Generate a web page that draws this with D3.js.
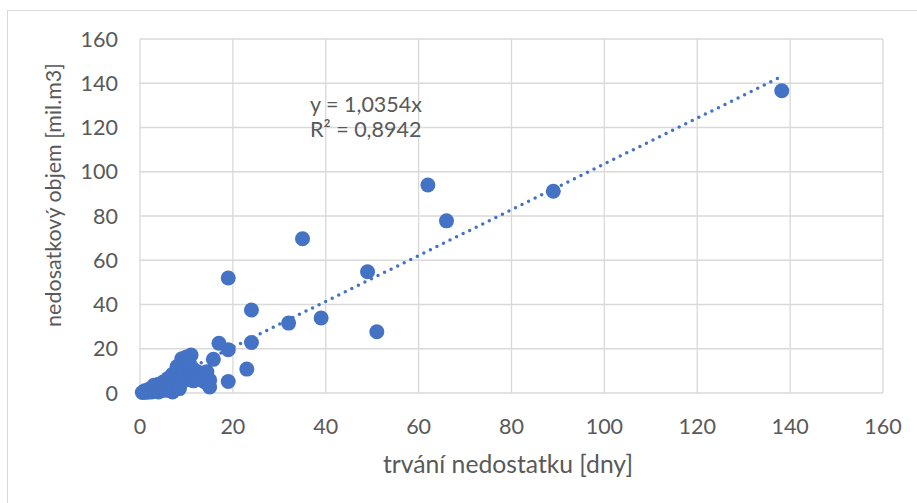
<!DOCTYPE html>
<html><head><meta charset="utf-8">
<script src="https://cdn.jsdelivr.net/npm/d3@7"></script>
<style>body{margin:0;background:#fff}text{font-family:Lato,"Open Sans",sans-serif;fill:#595959}</style>
</head><body><svg id="c" width="917" height="503"></svg>
<script>
const xTicks=[0,20,40,60,80,100,120,140,160];
const yTicks=[0,20,40,60,80,100,120,140,160];
const durationDays=[0.5,1,1,1.5,2,2,2.5,3,3,3,3.5,4,4,4,4.5,5,5,5,5.5,6,6,6,6.5,7,7,7,7,7.5,8,8,8,8,8.5,9,9,9,9,9.5,9.5,10,10,10,10,10.5,10.5,11,11,11,11,11.5,12,12,12.5,13,13,13.5,14,14,14.4,15,15,15.8,17,19,19,19,23,24,24,32,35,39,49,51,62,66,89,138.2];
const deficitVolume=[0.2,0.5,1,0.3,0.8,1.8,0.5,1,2,3.5,1.5,0.5,2.5,4,1,2,3.5,5,1.2,2.5,4,6.5,3,0.5,1.5,5,8.5,3,4,6,10,12,2,5,7,12.5,15.5,9,14,6,8,11,16.3,13,15,7,9,12,17.2,5.5,8,10,7,6,8.5,9,5,7,9.6,2.7,5.8,15.2,22.5,19.6,52,5.2,10.8,22.8,37.5,31.6,69.7,33.9,54.8,27.7,94,77.8,91.2,136.6];
const slope=1.0354, r2="0,8942";

const svg=d3.select("#c");
svg.append("rect").attr("x",7.5).attr("y",10.5).attr("width",920).attr("height",510).attr("fill","none").attr("stroke","#d9d9d9");
const L=140,R=883,T=39,B=393;
const x=d3.scaleLinear().domain([0,160]).range([L,R]);
const y=d3.scaleLinear().domain([0,160]).range([B,T]);
const g=svg.append("g");
g.selectAll(".vg").data(xTicks).join("line").attr("x1",d=>x(d)).attr("x2",d=>x(d)).attr("y1",T).attr("y2",B).attr("stroke","#d9d9d9").attr("stroke-width",1.3);
g.selectAll(".hg").data(yTicks).join("line").attr("y1",d=>y(d)).attr("y2",d=>y(d)).attr("x1",L).attr("x2",R).attr("stroke","#d9d9d9").attr("stroke-width",1.3);
const fs=21.5;
g.selectAll(".xt").data(xTicks).join("text").attr("x",d=>x(d)).attr("y",434).attr("text-anchor","middle").attr("font-size",fs).text(d=>d);
g.selectAll(".yt").data(yTicks).join("text").attr("x",118).attr("y",d=>y(d)+7.5).attr("text-anchor","end").attr("font-size",fs).text(d=>d);
function fit(sel,target){const n=sel.node();const w=n.getComputedTextLength();sel.attr("font-size",20*target/w);}
const xt=svg.append("text").attr("x",508).attr("y",473).attr("text-anchor","middle").attr("font-size",20).text("trvání nedostatku [dny]");
fit(xt,250);
const yt=svg.append("text").attr("transform","translate(61,195) rotate(-90)").attr("text-anchor","middle").attr("font-size",20).text("nedosatkový objem [mil.m3]");
fit(yt,264);
const pts=durationDays.map((d,i)=>[d,deficitVolume[i]]);
g.selectAll(".p").data(pts).join("circle").attr("cx",d=>x(d[0])).attr("cy",d=>y(d[1])).attr("r",7.5).attr("fill","#4472C4");
const xmin=d3.min(durationDays),xmax=d3.max(durationDays);
g.append("line").attr("x1",x(xmin)).attr("y1",y(slope*xmin)).attr("x2",x(xmax)).attr("y2",y(slope*xmax)).attr("stroke","#4472C4").attr("stroke-width",3.5).attr("stroke-dasharray","0,7.3").attr("stroke-linecap","round");
svg.append("text").attr("x",310).attr("y",112).attr("font-size",fs).text("y = "+String(slope).replace(".",",")+"x");
svg.append("text").attr("x",310).attr("y",137).attr("font-size",fs).text("R² = "+r2);
</script></body></html>
